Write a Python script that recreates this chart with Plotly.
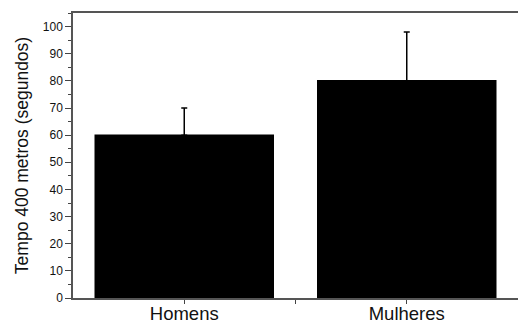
import plotly.graph_objects as go

categories = ["Homens", "Mulheres"]
positions = [0, 1]
values = [60, 80]
errors_up = [10, 18]

fig = go.Figure()
# bars with upward error bars
fig.add_trace(go.Bar(
    x=positions, y=values, width=0.8,
    marker=dict(color="black", line=dict(width=0)),
    error_y=dict(type="data", array=errors_up, arrayminus=[0, 0], symmetric=False,
                 color="black", thickness=1.5, width=3),
))
# same bars drawn again on top to hide the lower error-bar cap
fig.add_trace(go.Bar(
    x=positions, y=values, width=0.8,
    marker=dict(color="black", line=dict(width=1.5, color="black")),
))
fig.update_layout(
    template="none",
    barmode="overlay",
    width=518, height=322,
    margin=dict(l=73, r=0, t=13, b=24, pad=0),
    plot_bgcolor="white", paper_bgcolor="white",
    showlegend=False,
    font=dict(family="Liberation Sans, Arial", color="black"),
)
fig.update_xaxes(
    automargin=False,
    range=[-0.5, 1.5], tickvals=[0, 0.5, 1], ticktext=[categories[0], "", categories[1]],
    ticks="outside", ticklen=4, tickcolor="#444", tickwidth=1,
    showline=True, linecolor="#555", linewidth=1.5, mirror=True,
    showgrid=False, zeroline=False, tickfont=dict(size=18.5, color="#111"),
    ticklabelstandoff=-6,
)
fig.update_yaxes(
    automargin=False,
    range=[0, 105], dtick=10, ticks="outside", ticklen=6, tickcolor="#444", tickwidth=1,
    minor=dict(dtick=5, ticks="outside", ticklen=3, tickcolor="#444", showgrid=False),
    showline=True, linecolor="#555", linewidth=1.5,
    showgrid=False, zeroline=False, tickfont=dict(size=12, color="#111"),
    title=dict(text="Tempo 400 metros (segundos)", font=dict(size=17.5, color="#111"), standoff=10),
)
fig.write_html(
    "out.html",
    config={"displayModeBar": False},
    post_script="document.body.style.margin='0';document.body.style.overflow='hidden';",
)
